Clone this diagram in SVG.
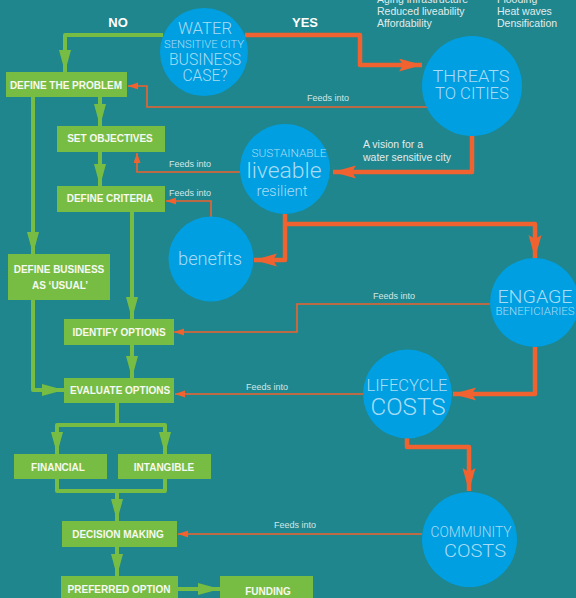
<svg xmlns="http://www.w3.org/2000/svg" width="576" height="598" viewBox="0 0 576 598">
<defs>
<style>
.bg{fill:#1e868c}
.box{fill:#78bd43}
.bt{font-family:"Liberation Sans",Arial,sans-serif;font-weight:bold;font-size:10px;fill:#f6f9f0;text-anchor:middle}
.circ{fill:#009fe2}
.ct{font-family:Roboto,"Liberation Sans",sans-serif;font-weight:300;fill:#a8dcf4;text-anchor:middle}
.g{fill:none;stroke:#78bd43;stroke-width:4;stroke-linejoin:round}
.ot{fill:none;stroke:#f0622f;stroke-width:4.5;stroke-linejoin:round}
.on{fill:none;stroke:#f0622f;stroke-width:1.6}
.lbl{font-family:"Liberation Sans",Arial,sans-serif;font-size:9px;fill:#d4e6e6}
.note{font-family:"Liberation Sans",Arial,sans-serif;font-size:10.5px;fill:#e2ecec}
.yn{font-family:"Liberation Sans",Arial,sans-serif;font-weight:bold;font-size:13px;fill:#ffffff;text-anchor:middle}
</style>
<marker id="ag" markerUnits="userSpaceOnUse" markerWidth="24" markerHeight="14" refX="22" refY="6" orient="auto"><path d="M0,0 L22,6 L0,12 z" fill="#78bd43"/></marker>
<marker id="ao" markerUnits="userSpaceOnUse" markerWidth="26" markerHeight="14" refX="23" refY="6.5" orient="auto"><path d="M0,0 L23,6.5 L0,13 L4,6.5 z" fill="#f0622f"/></marker>
<marker id="an" markerUnits="userSpaceOnUse" markerWidth="12" markerHeight="8" refX="10" refY="3.5" orient="auto"><path d="M0,0 L10,3.5 L0,7 z" fill="#f0622f"/></marker>
</defs>
<rect class="bg" x="0" y="0" width="576" height="598"/>

<g id="notes">
<text class="note" x="377" y="3">Aging infrastructure</text>
<text class="note" x="377" y="15">Reduced liveability</text>
<text class="note" x="377" y="27">Affordability</text>
<text class="note" x="497" y="3">Flooding</text>
<text class="note" x="497" y="15">Heat waves</text>
<text class="note" x="497" y="27">Densification</text>
<text class="yn" x="118" y="27">NO</text>
<text class="yn" x="305" y="27">YES</text>
</g>

<g id="connectors">
<path class="g" d="M163,35 H65 V72" marker-end="url(#ag)"/>
<path class="g" d="M100,97 V126" marker-end="url(#ag)"/>
<path class="g" d="M33,97 V254" marker-end="url(#ag)"/>
<path class="g" d="M100,152 V186" marker-end="url(#ag)"/>
<path class="g" d="M132,212 V319" marker-end="url(#ag)"/>
<path class="g" d="M132,345 V378" marker-end="url(#ag)"/>
<path class="g" d="M33,300 V390 H64" marker-end="url(#ag)"/>
<path class="g" d="M117,403 V425"/>
<path class="g" d="M117,425 H57 V454" marker-end="url(#ag)"/>
<path class="g" d="M117,425 H165 V454" marker-end="url(#ag)"/>
<path class="g" d="M57,479 V491 H165 V479"/>
<path class="g" d="M117,491 V521" marker-end="url(#ag)"/>
<path class="g" d="M117,547 V576" marker-end="url(#ag)"/>
<path class="g" d="M178,589 H220" marker-end="url(#ag)"/>

<path class="ot" d="M245,35 H360 V65 H422" marker-end="url(#ao)"/>
<path class="ot" d="M472,136 V172 H333" marker-end="url(#ao)"/>
<path class="ot" d="M285,214 V260 H254" marker-end="url(#ao)"/>
<path class="ot" d="M285,224 H535 V258" marker-end="url(#ao)"/>
<path class="ot" d="M535,347 V394 H453" marker-end="url(#ao)"/>
<path class="ot" d="M407,438 V447 H469 V491" marker-end="url(#ao)"/>

<path class="on" d="M427,107 H147 V86 H128" marker-end="url(#an)"/>
<path class="on" d="M240,172 H137 V153" marker-end="url(#an)"/>
<path class="on" d="M211,217 V201 H166" marker-end="url(#an)"/>
<path class="on" d="M490,304 H297 V332 H174" marker-end="url(#an)"/>
<path class="on" d="M363,394 H175" marker-end="url(#an)"/>
<path class="on" d="M422,534 H178" marker-end="url(#an)"/>

<text class="lbl" x="307" y="101">Feeds into</text>
<text class="lbl" x="169" y="167">Feeds into</text>
<text class="lbl" x="169" y="196">Feeds into</text>
<text class="lbl" x="373" y="299">Feeds into</text>
<text class="lbl" x="246" y="390">Feeds into</text>
<text class="lbl" x="274" y="528">Feeds into</text>
<text class="note" x="363" y="148">A vision for a</text>
<text class="note" x="363" y="161">water sensitive city</text>
</g>

<g id="business-case">
<circle class="circ" cx="204" cy="52" r="44"/>
<text class="ct" x="205" y="34" font-size="16" textLength="54" lengthAdjust="spacingAndGlyphs">WATER</text>
<text class="ct" x="204" y="48" font-size="10" textLength="80" lengthAdjust="spacingAndGlyphs">SENSITIVE CITY</text>
<text class="ct" x="205" y="65" font-size="16" textLength="72" lengthAdjust="spacingAndGlyphs">BUSINESS</text>
<text class="ct" x="205" y="81" font-size="16" textLength="45" lengthAdjust="spacingAndGlyphs">CASE?</text>
</g>

<g id="threats">
<circle class="circ" cx="472" cy="86" r="50"/>
<text class="ct" x="471" y="82" font-size="17" textLength="77" lengthAdjust="spacingAndGlyphs">THREATS</text>
<text class="ct" x="472" y="99" font-size="17" textLength="74" lengthAdjust="spacingAndGlyphs">TO CITIES</text>
</g>

<g id="sustainable">
<circle class="circ" cx="285" cy="169" r="45"/>
<text class="ct" x="289" y="157" font-size="10" textLength="75" lengthAdjust="spacingAndGlyphs">SUSTAINABLE</text>
<text class="ct" x="284" y="178" font-size="22" textLength="75" lengthAdjust="spacingAndGlyphs">liveable</text>
<text class="ct" x="282" y="196" font-size="14" textLength="51" lengthAdjust="spacingAndGlyphs">resilient</text>
</g>

<g id="benefits">
<circle class="circ" cx="211" cy="259" r="42.5"/>
<text class="ct" x="210" y="265" font-size="18" textLength="64" lengthAdjust="spacingAndGlyphs">benefits</text>
</g>

<g id="engage">
<circle class="circ" cx="534.5" cy="302.5" r="44.5"/>
<text class="ct" x="535" y="303" font-size="19" textLength="75" lengthAdjust="spacingAndGlyphs">ENGAGE</text>
<text class="ct" x="535" y="315" font-size="10" textLength="79" lengthAdjust="spacingAndGlyphs">BENEFICIARIES</text>
</g>

<g id="lifecycle">
<circle class="circ" cx="407.5" cy="394" r="44.5"/>
<text class="ct" x="407" y="391" font-size="16" textLength="81" lengthAdjust="spacingAndGlyphs">LIFECYCLE</text>
<text class="ct" x="408" y="415" font-size="24" textLength="75" lengthAdjust="spacingAndGlyphs">COSTS</text>
</g>

<g id="community">
<circle class="circ" cx="469.5" cy="539.5" r="47.5"/>
<text class="ct" x="471" y="537" font-size="15" textLength="81" lengthAdjust="spacingAndGlyphs">COMMUNITY</text>
<text class="ct" x="475" y="557" font-size="19" textLength="62" lengthAdjust="spacingAndGlyphs">COSTS</text>
</g>

<g id="define-problem"><rect class="box" x="6" y="72" width="121" height="25"/><text class="bt" x="66" y="89">DEFINE THE PROBLEM</text></g>
<g id="set-objectives"><rect class="box" x="57" y="126" width="108" height="26"/><text class="bt" x="110" y="142">SET OBJECTIVES</text></g>
<g id="define-criteria"><rect class="box" x="57" y="186" width="108" height="26"/><text class="bt" x="110" y="202">DEFINE CRITERIA</text></g>
<g id="define-business"><rect class="box" x="8" y="254" width="102" height="46"/><text class="bt" x="59" y="273">DEFINE BUSINESS</text><text class="bt" x="60" y="289">AS ‘USUAL’</text></g>
<g id="identify-options"><rect class="box" x="64" y="319" width="110" height="26"/><text class="bt" x="119" y="336">IDENTIFY OPTIONS</text></g>
<g id="evaluate-options"><rect class="box" x="64" y="378" width="110" height="25"/><text class="bt" x="120" y="394">EVALUATE OPTIONS</text></g>
<g id="financial"><rect class="box" x="14" y="454" width="93" height="25"/><text class="bt" x="58" y="471">FINANCIAL</text></g>
<g id="intangible"><rect class="box" x="118" y="454" width="93" height="25"/><text class="bt" x="164" y="471">INTANGIBLE</text></g>
<g id="decision-making"><rect class="box" x="62" y="521" width="115" height="26"/><text class="bt" x="118" y="538">DECISION MAKING</text></g>
<g id="preferred-option"><rect class="box" x="61" y="576" width="117" height="26"/><text class="bt" x="119" y="593">PREFERRED OPTION</text></g>
<g id="funding"><rect class="box" x="220" y="576" width="93" height="26"/><text class="bt" x="268" y="595">FUNDING</text></g>
</svg>
